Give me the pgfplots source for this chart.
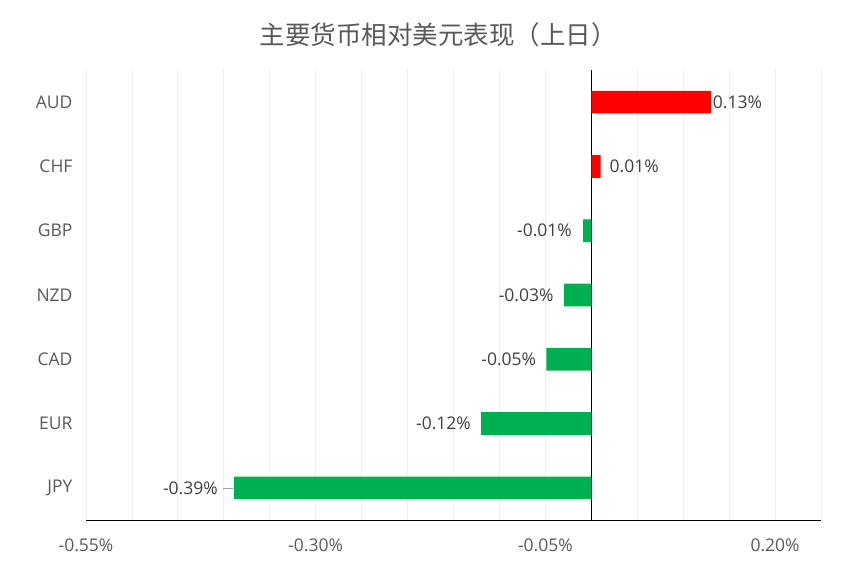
\documentclass[border=0pt]{standalone}
\usepackage{pgfplots}
\pgfplotsset{compat=1.18}
\usepackage{pgfplotstable}
\usepackage{fontspec}
\setmainfont{Open Sans}
\newfontfamily\cjk{Noto Sans CJK SC}
\definecolor{txt}{HTML}{595959}
\definecolor{lbl}{HTML}{404040}
\definecolor{gridc}{HTML}{EFEFEF}
\definecolor{upred}{HTML}{FF0000}
\definecolor{dngreen}{HTML}{00B050}

% y: 0 = JPY (bottom) ... 6 = AUD (top); gap = label offset in pt
\pgfplotstableread{
y val gap
6 0.130 2
5 0.010 9
}\posdata
\pgfplotstableread{
y val gap
4 -0.009 11
3 -0.030 10
2 -0.049 10
1 -0.120 10
0 -0.389 16
}\negdata

\pgfplotsset{
  barlabels/.style={
    point meta=x,
    nodes near coords={\pgfmathprintnumber[fixed,fixed zerofill,precision=2]{\pgfplotspointmeta}\%},
    visualization depends on={\thisrow{gap} \as \gap},
  },
}

\begin{document}
\begin{tikzpicture}
\useasboundingbox (-86pt,-60pt) rectangle (779pt,520pt);
\begin{axis}[
  at={(0,0)}, anchor=south west,
  scale only axis, width=735pt, height=450pt,
  xbar, bar width=22.7pt, bar shift=0pt,
  xmin=-0.55, xmax=0.25, ymin=-0.5, ymax=6.5,
  axis x line=bottom, axis y line=left,
  axis line style={-, black, line width=0.8pt},
  y axis line style={draw=none},
  xtick={-0.55,-0.3,-0.05,0.2},
  xticklabels={-0.55\%,-0.30\%,-0.05\%,0.20\%},
  minor xtick={-0.5,-0.45,-0.4,-0.35,-0.25,-0.2,-0.15,-0.1,0.05,0.1,0.15,0.25},
  xmajorgrids, xminorgrids,
  major grid style={gridc, line width=0.8pt},
  minor grid style={gridc, line width=0.8pt},
  extra x ticks={0}, extra x tick labels={},
  extra x tick style={grid=major, major grid style={black, line width=0.8pt}},
  ytick={0,...,6},
  yticklabels={JPY,EUR,CAD,NZD,GBP,CHF,AUD},
  major tick length=0pt, minor tick length=0pt,
  ticklabel style={font=\fontsize{17.5pt}{20pt}\selectfont, text=txt},
  yticklabel style={xshift=-10pt},
  xticklabel style={yshift=-15pt},
  /pgf/number format/assume math mode=true,
  nodes near coords style={font=\fontsize{17.5pt}{20pt}\selectfont, text=lbl, inner sep=0pt},
  clip=false,
]
\addplot[fill=upred, draw=none, barlabels,
  nodes near coords style={anchor=west, xshift=\gap pt}]
  table[x=val, y=y] {\posdata};
\addplot[fill=dngreen, draw=none, barlabels,
  nodes near coords style={anchor=east, xshift=-\gap pt}]
  table[x=val, y=y] {\negdata};
\addplot[xbar=false, sharp plot, color=gray!70, line width=0.7pt, no marks]
  coordinates {(-0.4007,0) (-0.3895,0)};
\end{axis}
\node[text=txt, font=\cjk\fontsize{25.5pt}{30pt}\selectfont] at (352pt,485pt) {主要货币相对美元表现（上日）};
\end{tikzpicture}
\end{document}
